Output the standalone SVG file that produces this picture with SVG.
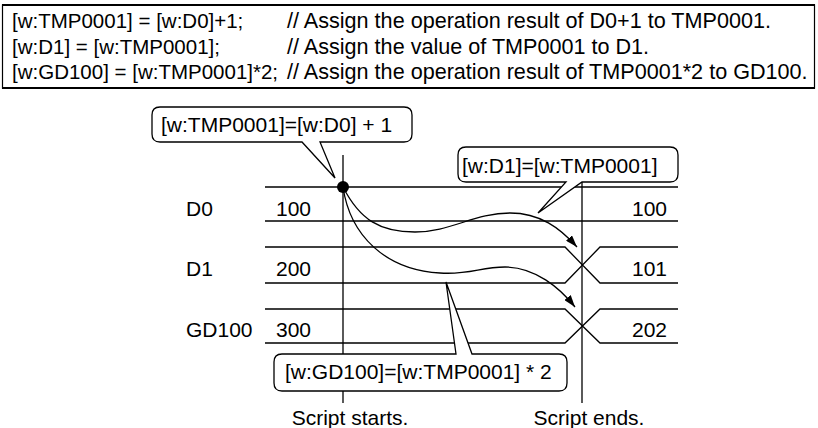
<svg xmlns="http://www.w3.org/2000/svg" width="818" height="428" viewBox="0 0 818 428">
<style>
text{font-family:"Liberation Sans",Arial,sans-serif;font-size:21px;fill:#000}
.ln{stroke:#000;stroke-width:1.3;fill:none}
.co{fill:#fff;stroke:#000;stroke-width:1.3}
.c1{font-size:20.5px}
.cm{font-size:21.6px}
</style>
<defs>
<marker id="ah" viewBox="0 0 12 8" refX="12" refY="4" markerWidth="12" markerHeight="8" markerUnits="userSpaceOnUse" orient="auto">
<path d="M0,0 L12,4 L0,8 Z" fill="#000"/>
</marker>
</defs>
<rect width="818" height="428" fill="#fff"/>
<g id="code">
<rect x="2.5" y="5" width="812" height="83" fill="none" stroke="#000" stroke-width="1.2"/>
<line x1="2" y1="5" x2="815" y2="5" stroke="#000" stroke-width="2.2"/>
<line x1="2" y1="88" x2="815" y2="88" stroke="#000" stroke-width="2.2"/>
<text class="c1" x="12" y="28">[w:TMP0001] = [w:D0]+1;</text>
<text class="c1" x="12" y="54">[w:D1] = [w:TMP0001];</text>
<text class="c1" x="12" y="79">[w:GD100] = [w:TMP0001]*2;</text>
<text class="cm" x="287" y="28">// Assign the operation result of D0+1 to TMP0001.</text>
<text class="cm" x="287" y="54">// Assign the value of TMP0001 to D1.</text>
<text class="cm" x="287" y="79">// Assign the operation result of TMP0001*2 to GD100.</text>
</g>
<g id="row-D0">
<line class="ln" x1="265" y1="187" x2="678" y2="187"/>
<line class="ln" x1="265" y1="221" x2="678" y2="221"/>
<text x="186" y="216">D0</text>
<text x="276" y="216">100</text>
<text x="632" y="216">100</text>
</g>
<g id="row-D1">
<path class="ln" d="M265,247 H565 L600,283 H678 M265,283 H565 L600,247 H678"/>
<text x="186" y="276">D1</text>
<text x="276" y="276">200</text>
<text x="632" y="276">101</text>
</g>
<g id="row-GD100">
<path class="ln" d="M265,309 H565 L600,343 H678 M265,343 H565 L600,309 H678"/>
<text x="186" y="337">GD100</text>
<text x="276" y="337">300</text>
<text x="632" y="337">202</text>
</g>
<g id="start-marker">
<line class="ln" x1="343" y1="155" x2="343" y2="403"/>
<text x="350" y="425" text-anchor="middle">Script starts.</text>
</g>
<g id="end-marker">
<line class="ln" x1="582" y1="182" x2="582" y2="403"/>
<text x="589" y="425" text-anchor="middle">Script ends.</text>
</g>
<g id="connectors">
<path class="ln" d="M343,187 C360,220 380,232 415,232 C450,232 475,213 510,213 C540,213 560,228 577,247" marker-end="url(#ah)"/>
<path class="ln" d="M343,187 C350,235 385,270 440,273 C470,275 480,267 505,267 C535,267 560,288 575,307" marker-end="url(#ah)"/>
<circle cx="343" cy="187" r="6" fill="#000"/>
</g>
<g id="callout-tmp">
<path class="co" d="M160,107 H404 Q412,107 412,115 V134 Q412,142 404,142 H320 L335,178 L302,142 H160 Q152,142 152,134 V115 Q152,107 160,107 Z"/>
<text x="161" y="132">[w:TMP0001]=[w:D0] + 1</text>
</g>
<g id="callout-d1">
<path class="co" d="M466,147 H670 Q678,147 678,155 V174 Q678,182 670,182 H582 L538,213 L566,182 H466 Q458,182 458,174 V155 Q458,147 466,147 Z"/>
<text x="462" y="173">[w:D1]=[w:TMP0001]</text>
</g>
<g id="callout-gd100">
<path class="co" d="M282,354 H456 L446,282 L472,354 H559 Q567,354 567,362 V383 Q567,391 559,391 H282 Q274,391 274,383 V362 Q274,354 282,354 Z"/>
<text x="285" y="379">[w:GD100]=[w:TMP0001] * 2</text>
</g>
</svg>
